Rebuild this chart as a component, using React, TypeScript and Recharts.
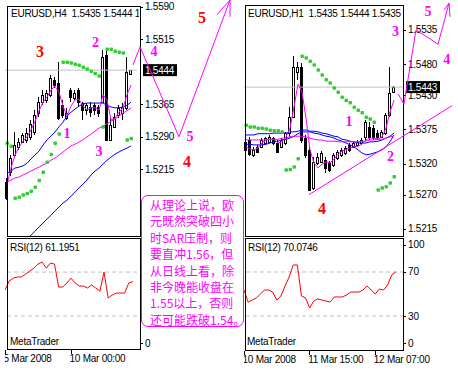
import React from 'react';
import { ComposedChart, ScatterChart, Bar, Line, Scatter, XAxis, YAxis, ReferenceLine } from 'recharts';

const MAGENTA = '#ff00ff';
const RED = '#ff0000';
const BLUE = '#0000ff';
const SAR_GREEN = '#33cc33';
const GRAY = '#c0c0c0';
const AXIS_FONT = '"Liberation Sans", Arial, sans-serif';
const NOTE_FONT = '"Liberation Serif", "Times New Roman", serif';

// ---------- EURUSD H4 (left) ----------
const h4Open = [1.5186, 1.5209, 1.5248, 1.5267, 1.5278, 1.5283, 1.529, 1.5301, 1.5345, 1.5371, 1.5375, 1.5387, 1.5421, 1.5414, 1.5364, 1.5334, 1.5398, 1.538, 1.5398, 1.5368, 1.5352, 1.5359, 1.5364, 1.5359, 1.5371, 1.5479, 1.5283, 1.5313, 1.5341, 1.5345, 1.5357, 1.5435];
const h4High = [1.5195, 1.5248, 1.5301, 1.5287, 1.5299, 1.531, 1.5329, 1.5352, 1.5382, 1.5398, 1.5398, 1.5433, 1.5428, 1.5463, 1.5375, 1.5357, 1.5403, 1.5398, 1.5403, 1.5371, 1.5368, 1.5371, 1.5368, 1.5364, 1.5491, 1.5491, 1.5334, 1.5345, 1.5364, 1.5368, 1.5475, 1.5444];
const h4Low = [1.5144, 1.52, 1.5241, 1.526, 1.5276, 1.5276, 1.5283, 1.5294, 1.5336, 1.5364, 1.5368, 1.5382, 1.5403, 1.5329, 1.5334, 1.5329, 1.5371, 1.5375, 1.5359, 1.5329, 1.5341, 1.5336, 1.5341, 1.5336, 1.5368, 1.528, 1.528, 1.531, 1.5334, 1.5329, 1.5352, 1.5435];
const h4Close = [1.5149, 1.5241, 1.5271, 1.5278, 1.5294, 1.5299, 1.532, 1.5341, 1.5371, 1.5387, 1.5391, 1.5426, 1.541, 1.5334, 1.5341, 1.5345, 1.5382, 1.5391, 1.5371, 1.5352, 1.5364, 1.5347, 1.5352, 1.5345, 1.5475, 1.5283, 1.5317, 1.5336, 1.5357, 1.5359, 1.544, 1.5444];
const h4Sar = [1.5276, 1.5269, 1.5149, 1.5151, 1.5156, 1.516, 1.5165, 1.5174, 1.519, 1.5209, 1.5232, 1.525, 1.5276, 1.5297, 1.5463, 1.5463, 1.5461, 1.5458, 1.5456, 1.5451, 1.5447, 1.5442, 1.5437, 1.5431, 1.5313, 1.5493, 1.5493, 1.5488, 1.5486, 1.5484, 1.5283, 1.5287];
const h4MaFast = [1.5179, 1.5218, 1.5248, 1.5266, 1.528, 1.529, 1.5306, 1.5326, 1.535, 1.537, 1.5382, 1.5398, 1.5407, 1.5393, 1.5361, 1.5338, 1.5361, 1.5375, 1.5377, 1.5361, 1.5352, 1.5357, 1.5357, 1.5352, 1.5387, 1.5375, 1.5329, 1.5333, 1.5347, 1.5357, 1.5387, 1.541];
const h4MaSlow = [1.5186, 1.519, 1.5195, 1.5197, 1.5202, 1.5206, 1.5211, 1.5216, 1.522, 1.5225, 1.5229, 1.5236, 1.5241, 1.5248, 1.5255, 1.5262, 1.5269, 1.5273, 1.5278, 1.5283, 1.529, 1.5296, 1.5303, 1.531, 1.5315, 1.532, 1.5326, 1.5331, 1.5338, 1.5345, 1.535, 1.5357];
const h4MaBlue = [1.5206, 1.5211, 1.5218, 1.522, 1.5223, 1.5229, 1.5239, 1.5248, 1.5257, 1.5271, 1.5283, 1.5292, 1.5301, 1.5313, 1.5324, 1.5338, 1.5347, 1.5354, 1.5361, 1.5366, 1.5368, 1.5368, 1.5368, 1.5368, 1.5368, 1.5363, 1.5359, 1.5357, 1.5357, 1.5359, 1.5363, 1.537];
const h4MaBlueLong = [null, null, null, null, null, 1.5054, 1.5063, 1.5072, 1.5082, 1.5091, 1.51, 1.5109, 1.5119, 1.5128, 1.5137, 1.5144, 1.5153, 1.5162, 1.5172, 1.5181, 1.519, 1.5202, 1.5211, 1.5218, 1.5227, 1.5236, 1.5243, 1.525, 1.5255, 1.526, 1.5264, 1.5269];
const h4Rsi = [53.6, 61.8, 64.5, 65.5, 65.5, 68.2, 70.9, 73.6, 77.3, 79.1, 73.6, 78.2, 77.3, 56.4, 56.4, 60.0, 64.5, 60.0, 57.3, 57.3, 55.5, 58.2, 55.5, 52.7, 70.0, 46.4, 49.1, 50.9, 50.9, 50.9, 60.0, 61.1951];
const h4PriceTicks = [1.559, 1.5515, 1.5365, 1.529, 1.5215];
// the 100/70/30 labels of this panel sit under the comment box
const h4RsiTicks = [0];
const h4TickIndex = [0, 16];
const h4TickLabels = ['5 Mar 2008', '10 Mar 00:00'];

// analyst drawings on the H4 chart (bar index, price)
const h4Wave = [{ x: 31.5, p: 1.5456 }, { x: 33.25, p: 1.5498 }, { x: 43, p: 1.529 }, { x: 55.75, p: 1.5606 }];
const h4Arrow = [{ x: 52.5, p: 1.5572 }, { x: 55.75, p: 1.5606 }, { x: 55.75, p: 1.5567 }];
const h4Notes = [
  { x: 8.25, p: 1.5486, t: '3', c: RED, s: 16 },
  { x: 22.1, p: 1.5509, t: '2', c: MAGENTA, s: 14 },
  { x: 36.75, p: 1.5486, t: '4', c: MAGENTA, s: 14 },
  { x: 15, p: 1.5297, t: '1', c: MAGENTA, s: 14 },
  { x: 23, p: 1.5257, t: '3', c: MAGENTA, s: 14 },
  { x: 48.75, p: 1.5565, t: '5', c: RED, s: 16 },
  { x: 45.75, p: 1.529, t: '5', c: MAGENTA, s: 14 },
  { x: 45, p: 1.5234, t: '4', c: RED, s: 16 },
];

// ---------- EURUSD H1 (right) ----------
const h1Open = [1.5355, 1.5358, 1.5334, 1.5347, 1.5347, 1.5353, 1.5355, 1.5361, 1.5353, 1.5347, 1.5353, 1.5369, 1.5395, 1.5467, 1.5476, 1.5361, 1.5342, 1.5281, 1.5321, 1.5323, 1.5326, 1.5321, 1.5318, 1.5329, 1.5334, 1.5337, 1.535, 1.5347, 1.535, 1.5353, 1.5363, 1.5379, 1.5377, 1.5369, 1.5363, 1.5369, 1.5398, 1.5435];
const h1High = [1.5358, 1.5363, 1.5347, 1.535, 1.5361, 1.5363, 1.5366, 1.5363, 1.5358, 1.5361, 1.5371, 1.5411, 1.5493, 1.5484, 1.5482, 1.5366, 1.5347, 1.5331, 1.5337, 1.534, 1.5331, 1.5324, 1.5337, 1.5342, 1.5345, 1.5348, 1.5353, 1.5355, 1.5358, 1.5361, 1.539, 1.5387, 1.5382, 1.5374, 1.5374, 1.5401, 1.5476, 1.5444];
const h1Low = [1.5339, 1.5332, 1.5331, 1.5337, 1.5345, 1.535, 1.5353, 1.535, 1.5337, 1.5345, 1.535, 1.5363, 1.5393, 1.5455, 1.5353, 1.5329, 1.5276, 1.5278, 1.5318, 1.5321, 1.5305, 1.5306, 1.5315, 1.5326, 1.5331, 1.5334, 1.5339, 1.5345, 1.5347, 1.535, 1.5358, 1.5358, 1.5358, 1.536, 1.5361, 1.5366, 1.5395, 1.5435];
const h1Close = [1.5342, 1.5336, 1.5342, 1.5339, 1.5358, 1.5361, 1.5363, 1.5353, 1.5339, 1.5358, 1.5369, 1.5395, 1.5476, 1.5476, 1.5358, 1.5334, 1.5278, 1.5323, 1.5331, 1.5337, 1.5313, 1.531, 1.5334, 1.5339, 1.5342, 1.5345, 1.5342, 1.5353, 1.5355, 1.5358, 1.5387, 1.5363, 1.5363, 1.5363, 1.5371, 1.5398, 1.5434, 1.5443];
const h1Sar = [1.5382, 1.5379, 1.5379, 1.5377, 1.5377, 1.5376, 1.5374, 1.5373, 1.5373, 1.5371, 1.531, 1.5311, 1.5315, 1.5328, 1.5493, 1.549, 1.5485, 1.5479, 1.5471, 1.5463, 1.5455, 1.545, 1.5442, 1.5435, 1.5427, 1.5422, 1.5418, 1.5411, 1.5406, 1.5402, 1.5395, 1.5392, 1.5387, 1.5278, 1.5281, 1.5283, 1.5289, 1.5299];
const h1MaFast = [1.5347, 1.5343, 1.5342, 1.5345, 1.5353, 1.5358, 1.5359, 1.5359, 1.5353, 1.5355, 1.5363, 1.5377, 1.5411, 1.5448, 1.5435, 1.5393, 1.5342, 1.5321, 1.5313, 1.5319, 1.5323, 1.5321, 1.5327, 1.5335, 1.534, 1.5343, 1.5345, 1.5347, 1.5348, 1.5351, 1.5358, 1.5361, 1.5361, 1.5359, 1.5363, 1.5377, 1.5403, 1.5422];
const h1MaSlow = [1.5358, 1.5358, 1.5358, 1.5358, 1.5358, 1.5358, 1.5359, 1.5359, 1.5359, 1.5361, 1.5361, 1.5363, 1.5364, 1.5364, 1.5364, 1.5363, 1.5361, 1.5359, 1.5358, 1.5358, 1.5356, 1.5356, 1.5356, 1.5355, 1.5355, 1.5355, 1.5355, 1.5355, 1.5355, 1.5356, 1.5356, 1.5358, 1.5358, 1.5359, 1.5359, 1.5361, 1.5363, 1.5364];
const h1MaBlue = [1.5366, 1.5366, 1.5366, 1.5368, 1.5368, 1.5368, 1.5368, 1.5369, 1.5369, 1.5369, 1.5369, 1.5371, 1.5371, 1.5372, 1.5374, 1.5374, 1.5372, 1.5372, 1.5371, 1.5369, 1.5368, 1.5366, 1.5364, 1.5363, 1.5359, 1.5358, 1.5356, 1.5355, 1.5353, 1.5353, 1.5353, 1.5355, 1.5355, 1.5356, 1.5358, 1.5361, 1.5364, 1.5369];
const h1MaBlue2 = [1.5351, 1.5351, 1.535, 1.535, 1.535, 1.5351, 1.5353, 1.5355, 1.5356, 1.5358, 1.5359, 1.5361, 1.5364, 1.5368, 1.5371, 1.5371, 1.5371, 1.5369, 1.5368, 1.5366, 1.5364, 1.5363, 1.5361, 1.5358, 1.5356, 1.5353, 1.535, 1.5347, 1.5342, 1.5337, 1.5334, 1.5335, 1.5337, 1.5339, 1.5342, 1.5347, 1.5355, 1.5366];
const h1Rsi = [53.6, 42.7, 44.5, 46.4, 50.0, 53.6, 53.6, 51.8, 44.5, 48.2, 57.3, 65.5, 76.4, 76.4, 48.2, 46.4, 37.3, 43.6, 45.5, 44.5, 43.6, 42.7, 47.3, 47.3, 47.3, 49.1, 51.8, 51.8, 51.8, 53.6, 57.3, 53.6, 50.0, 54.5, 53.6, 58.2, 67.3, 70.0746];
const h1PriceTicks = [1.5535, 1.548, 1.543, 1.5375, 1.532, 1.527, 1.5215];
const h1RsiTicks = [0, 30, 70, 100];
const h1TickIndex = [0, 16, 32];
const h1TickLabels = ['10 Mar 2008', '11 Mar 15:00', '12 Mar 07:00'];

const h1Wave = [{ x: 38, p: 1.5432 }, { x: 39.5, p: 1.5416 }, { x: 42.5, p: 1.5535 }, { x: 48, p: 1.5512 }, { x: 50.75, p: 1.5578 }];
const h1Arrow = [{ x: 49.5, p: 1.5567 }, { x: 50.75, p: 1.5578 }, { x: 51, p: 1.5556 }];
const h1Trend = [{ x: 15.75, p: 1.527 }, { x: 51.5, p: 1.5413 }];
const h1Notes = [
  { x: 45.5, p: 1.5564, t: '5', c: MAGENTA, s: 14 },
  { x: 37.4, p: 1.5533, t: '3', c: MAGENTA, s: 14 },
  { x: 50.2, p: 1.5487, t: '4', c: MAGENTA, s: 14 },
  { x: 36.1, p: 1.5331, t: '2', c: MAGENTA, s: 14 },
  { x: 25.75, p: 1.5387, t: '1', c: MAGENTA, s: 14 },
  { x: 19, p: 1.5247, t: '4', c: RED, s: 16 },
];

const calloutLines = [
  '从理论上说，欧',
  '元既然突破四小',
  '时SAR压制，则',
  '要直冲1.56，但',
  '从日线上看，除',
  '非今晚能收盘在',
  '1.55以上，否则',
  '还可能跌破1.54。',
];

// bar open times, weekend (8-9 Mar) skipped
function barTimes(day: number, hour: number, step: number, count: number) {
  const out: string[] = [];
  while (out.length < count) {
    if (day !== 8 && day !== 9) out.push(`${day} Mar ${String(hour).padStart(2, '0')}:00`);
    hour += step;
    if (hour >= 24) { hour -= 24; day += 1; }
  }
  return out;
}

const h4Times = barTimes(5, 8, 4, 33);
const h1Times = barTimes(10, 23, 1, 40);

function buildRows(times: string[], series: Record<string, (number | null)[]>) {
  return times.map((time, i) => {
    const r: Record<string, any> = { time };
    for (const k of Object.keys(series)) r[k] = series[k][i] ?? null;
    return r;
  });
}

const h4Rows = buildRows(h4Times, { open: h4Open, high: h4High, low: h4Low, close: h4Close, sar: h4Sar, fast: h4MaFast, slow: h4MaSlow, blue: h4MaBlue, blueLong: h4MaBlueLong });
const h1Rows = buildRows(h1Times, { open: h1Open, high: h1High, low: h1Low, close: h1Close, sar: h1Sar, fast: h1MaFast, slow: h1MaSlow, blue: h1MaBlue, blue2: h1MaBlue2 });
const h4RsiRows = buildRows(h4Times, { rsi: h4Rsi });
const h1RsiRows = buildRows(h1Times, { rsi: h1Rsi });

const tickMap = (times: string[], idx: number[], labels: string[]) =>
  Object.fromEntries(idx.map((i, k) => [times[i], labels[k]])) as Record<string, string>;

const candleRange = (r: any) => (r.high == null ? null : [r.low, r.high]);

function Candle(props: any) {
  const { x, y, width, height, payload } = props;
  if (!payload || payload.high == null || x == null) return <g />;
  const { open, high, low, close } = payload;
  const top = Math.min(y, y + height);
  const span = Math.abs(height);
  const at = (v: number) => top + (high === low ? 0 : ((high - v) / (high - low)) * span);
  const cx = Math.floor(x + width / 2) + 0.5;
  const bTop = Math.round(at(Math.max(open, close))) + 0.5;
  const bBot = Math.max(Math.round(at(Math.min(open, close))) + 0.5, bTop + 1);
  return (
    <g shapeRendering="crispEdges">
      <line x1={cx} x2={cx} y1={top} y2={top + span} stroke="#000" />
      <rect x={cx - 1} y={bTop} width={2} height={bBot - bTop} fill={close >= open ? '#fff' : '#000'} stroke="#000" />
    </g>
  );
}

function SarDot(props: any) {
  const { cx, cy, payload } = props;
  if (!payload || payload.sar == null || cx == null || cy == null || Number.isNaN(cy)) return <g />;
  return <rect x={cx - 1.5} y={cy - 1.5} width={3.5} height={3.5} rx={1} fill={SAR_GREEN} />;
}

function PriceTick(props: any) {
  const { y, payload, frameX, bid } = props;
  const v = payload.value as number;
  const label = v.toFixed(4);
  const ty = Math.round(y) + 0.5;
  if (v === bid) {
    return (
      <g>
        <rect x={frameX + 3} y={y - 6} width={34} height={12} fill="#000" />
        <text x={frameX + 5} y={y + 3.5} fontSize={10} fontFamily={AXIS_FONT} letterSpacing={-0.25} fill="#fff">{label}</text>
      </g>
    );
  }
  return (
    <g>
      <line x1={frameX} x2={frameX + 3} y1={ty} y2={ty} stroke="#000" />
      <text x={frameX + 5} y={y + 3.5} fontSize={10} fontFamily={AXIS_FONT} letterSpacing={-0.25} fill="#000">{label}</text>
    </g>
  );
}

function RsiTick(props: any) {
  const { y, payload, frameX } = props;
  const v = payload.value as number;
  const yy = y + (v === 100 ? 6 : v === 0 ? -6 : 0);
  const ty = Math.round(yy) + 0.5;
  return (
    <g>
      <line x1={frameX} x2={frameX + 3} y1={ty} y2={ty} stroke="#000" />
      <text x={frameX + 5} y={yy + 3.5} fontSize={10} fontFamily={AXIS_FONT} fill="#000">{v}</text>
    </g>
  );
}

function TimeTick(props: any) {
  const { x, payload, baseY, labels } = props;
  const label = labels[payload.value];
  if (!label) return <g />;
  const lx = Math.floor(x) + 0.5;
  return (
    <g>
      <line x1={lx} x2={lx} y1={baseY + 1} y2={baseY + 5} stroke="#000" />
      <text x={x - 1.5} y={baseY + 12.5} fontSize={10} fontFamily={AXIS_FONT} letterSpacing={-0.25} fill="#000">{label}</text>
    </g>
  );
}

const Nothing = () => <g />;

function NoteMark(props: any) {
  const { cx, cy, payload } = props;
  return (
    <text x={cx} y={cy} textAnchor="middle" dominantBaseline="central" fill={payload.c} fontSize={payload.s} fontWeight={700} fontFamily={NOTE_FONT}>
      {payload.t}
    </text>
  );
}

interface PriceProps {
  rows: any[];
  width: number;
  top: number;
  plotHeight: number;
  yWidth: number;
  domain: [number, number];
  ticks: number[];
  bid: number;
  frameX: number;
  lines: { key: string; color: string }[];
}

function PricePanel(p: PriceProps) {
  return (
    <ComposedChart width={p.width} height={p.top + p.plotHeight} data={p.rows} margin={{ top: p.top, right: 0, bottom: 0, left: 0 }}>
      <XAxis dataKey="time" hide />
      <YAxis
        orientation="right"
        type="number"
        width={p.yWidth}
        domain={p.domain}
        allowDataOverflow
        ticks={[...p.ticks, p.bid]}
        interval={0}
        axisLine={false}
        tickLine={false}
        tick={(t: any) => <PriceTick {...t} frameX={p.frameX} bid={p.bid} />}
      />
      <ReferenceLine y={p.bid} stroke={GRAY} />
      <Bar dataKey={candleRange} barSize={4} shape={Candle} isAnimationActive={false} />
      {p.lines.map((l) => (
        <Line key={l.key} dataKey={l.key} type="linear" stroke={l.color} strokeWidth={1} dot={false} activeDot={false} isAnimationActive={false} />
      ))}
      <Scatter dataKey="sar" shape={SarDot} isAnimationActive={false} />
    </ComposedChart>
  );
}

interface RsiProps {
  rows: any[];
  width: number;
  plotHeight: number;
  axisHeight: number;
  yWidth: number;
  domain: [number, number];
  ticks: number[];
  frameX: number;
  tickTimes: string[];
  labels: Record<string, string>;
}

function RsiPanel(p: RsiProps) {
  return (
    <ComposedChart width={p.width} height={p.plotHeight + p.axisHeight} data={p.rows} margin={{ top: 0, right: 0, bottom: 0, left: 0 }}>
      <XAxis
        dataKey="time"
        ticks={p.tickTimes}
        interval={0}
        height={p.axisHeight}
        axisLine={false}
        tickLine={false}
        tick={(t: any) => <TimeTick {...t} baseY={p.plotHeight} labels={p.labels} />}
      />
      <YAxis
        orientation="right"
        type="number"
        width={p.yWidth}
        domain={p.domain}
        allowDataOverflow
        ticks={p.ticks}
        interval={0}
        axisLine={false}
        tickLine={false}
        tick={(t: any) => <RsiTick {...t} frameX={p.frameX} />}
      />
      <ReferenceLine y={70} stroke={GRAY} strokeDasharray="4 3" />
      <ReferenceLine y={30} stroke={GRAY} strokeDasharray="4 3" />
      <Line dataKey="rsi" type="linear" stroke={RED} strokeWidth={1} dot={false} activeDot={false} isAnimationActive={false} />
    </ComposedChart>
  );
}

interface OverlayProps {
  width: number;
  height: number;
  xDomain: [number, number];
  yDomain: [number, number];
  paths: { x: number; p: number }[][];
  notes: { x: number; p: number; t: string; c: string; s: number }[];
}

function Overlay(p: OverlayProps) {
  return (
    <ScatterChart width={p.width} height={p.height} margin={{ top: 0, right: 0, bottom: 0, left: 0 }}>
      <XAxis type="number" dataKey="x" domain={p.xDomain} allowDataOverflow hide />
      <YAxis type="number" dataKey="p" domain={p.yDomain} allowDataOverflow hide />
      {p.paths.map((d, i) => (
        <Scatter key={i} data={d} fill={MAGENTA} line={{ stroke: MAGENTA, strokeWidth: 1 }} shape={Nothing} isAnimationActive={false} />
      ))}
      <Scatter data={p.notes} shape={NoteMark} isAnimationActive={false} />
    </ScatterChart>
  );
}

const abs = (left: number, top: number, z = 1): React.CSSProperties => ({ position: 'absolute', left, top, zIndex: z });
const frame = (left: number, top: number, width: number, height: number): React.CSSProperties => ({
  position: 'absolute', left, top, width, height, border: '1px solid #000', boxSizing: 'border-box', zIndex: 2,
});
const label = (left: number, top: number, width?: number): React.CSSProperties => ({
  position: 'absolute', left, top, width, height: 12, lineHeight: '12px', fontSize: 10, fontFamily: AXIS_FONT,
  letterSpacing: '-0.25px', whiteSpace: 'pre', overflow: 'hidden', color: '#000', zIndex: 3,
});

const last = (a: number[]) => a[a.length - 1];
const f4 = (v: number) => v.toFixed(4);

export default function App() {
  // caption shows open / high / low of the last bar; the H4 one is cut by its frame
  const h4Title = `EURUSD,H4  ${f4(last(h4Open))} ${f4(last(h4High))} ${f4(last(h4Low))}`;
  const h1Title = `EURUSD,H1  ${f4(last(h1Open))} ${f4(last(h1High))} ${f4(last(h1Low))}`;

  return (
    <div style={{ position: 'absolute', left: 0, top: 0, width: 458, height: 371, background: '#fff', overflow: 'hidden' }}>
      {/* left H4 */}
      <div style={abs(5, 0)}>
        <PricePanel
          rows={h4Rows}
          width={192}
          top={6}
          plotHeight={230}
          yWidth={60}
          domain={[1.5061, 1.55921]}
          ticks={h4PriceTicks}
          bid={last(h4Close)}
          frameX={135}
          lines={[
            { key: 'blueLong', color: BLUE },
            { key: 'slow', color: MAGENTA },
            { key: 'blue', color: BLUE },
            { key: 'fast', color: MAGENTA },
          ]}
        />
      </div>
      <div style={abs(5, 238)}>
        <RsiPanel
          rows={h4RsiRows}
          width={192}
          plotHeight={111}
          axisHeight={22}
          yWidth={60}
          domain={[0, 101]}
          ticks={h4RsiTicks}
          frameX={135}
          tickTimes={h4TickIndex.map((i) => h4Times[i])}
          labels={tickMap(h4Times, h4TickIndex, h4TickLabels)}
        />
      </div>

      {/* right H1 */}
      <div style={abs(244, 0)}>
        <PricePanel
          rows={h1Rows}
          width={214}
          top={5}
          plotHeight={231}
          yWidth={54}
          domain={[1.52035, 1.5575]}
          ticks={h1PriceTicks}
          bid={last(h1Close)}
          frameX={159}
          lines={[
            { key: 'blue', color: BLUE },
            { key: 'blue2', color: BLUE },
            { key: 'slow', color: MAGENTA },
            { key: 'fast', color: MAGENTA },
          ]}
        />
      </div>
      <div style={abs(244, 238)}>
        <RsiPanel
          rows={h1RsiRows}
          width={214}
          plotHeight={112}
          axisHeight={21}
          yWidth={54}
          domain={[-0.9, 100.9]}
          ticks={h1RsiTicks}
          frameX={159}
          tickTimes={h1TickIndex.map((i) => h1Times[i])}
          labels={tickMap(h1Times, h1TickIndex, h1TickLabels)}
        />
      </div>

      {/* panel frames */}
      <div style={frame(7, 6, 134, 231)} />
      <div style={frame(7, 238, 134, 112)} />
      <div style={frame(245, 5, 159, 232)} />
      <div style={frame(245, 238, 159, 113)} />

      {/* panel captions */}
      <div style={label(11, 8, 128)}>{h4Title}</div>
      <div style={label(248, 8)}>{h1Title}</div>
      <div style={label(10, 242)}>{`RSI(12) ${last(h4Rsi).toFixed(4)}`}</div>
      <div style={label(248, 242)}>{`RSI(12) ${last(h1Rsi).toFixed(4)}`}</div>
      <div style={label(10, 336)}>MetaTrader</div>
      <div style={label(247, 336)}>MetaTrader</div>

      {/* hand-drawn wave counts */}
      <div style={abs(5, 0, 4)}>
        <Overlay width={240} height={236} xDomain={[-0.5, 59.5]} yDomain={[1.5061, 1.5606]} paths={[h4Wave, h4Arrow]} notes={h4Notes} />
      </div>
      <div style={abs(244, 0, 4)}>
        <Overlay width={214} height={236} xDomain={[-0.5, 53]} yDomain={[1.52035, 1.5583]} paths={[h1Trend, h1Wave, h1Arrow]} notes={h1Notes} />
      </div>

      {/* comment box */}
      <div
        style={{
          position: 'absolute', left: 141, top: 195, width: 103, height: 132, zIndex: 5,
          border: `1px solid ${MAGENTA}`, borderRadius: 7, background: '#fff', boxSizing: 'border-box',
          padding: '1px 0 0 8px', color: MAGENTA, fontSize: 12, lineHeight: '16.4px',
          fontFamily: '"Noto Sans CJK SC", sans-serif', whiteSpace: 'nowrap',
        }}
      >
        {calloutLines.map((l, i) => (
          <div key={i}>{l}</div>
        ))}
      </div>
    </div>
  );
}
